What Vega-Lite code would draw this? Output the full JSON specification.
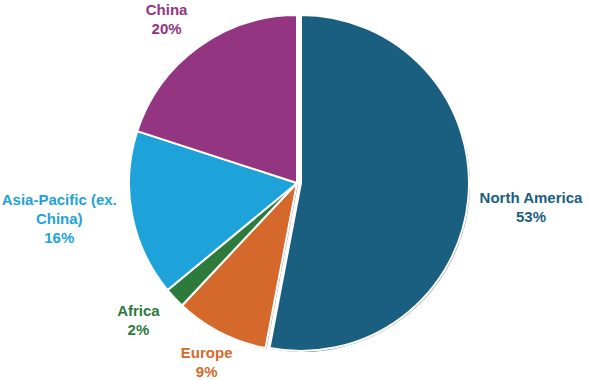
{
  "$schema": "https://vega.github.io/schema/vega-lite/v6.json",
  "autosize": {"type": "none"},
  "width": 584,
  "height": 366,
  "padding": {"left": 5, "top": 0, "right": 0, "bottom": 14},
  "background": "white",
  "config": {"view": {"stroke": null}},
  "data": {
    "values": [
      {"region": "North America", "value": 53, "idx": 1, "label": "North America\n53%"},
      {"region": "Europe", "value": 9, "idx": 2, "label": "Europe\n9%"},
      {"region": "Africa", "value": 2, "idx": 3, "label": "Africa\n2%"},
      {"region": "Asia-Pacific (ex. China)", "value": 16, "idx": 4, "label": "Asia-Pacific (ex.\nChina)\n16%"},
      {"region": "China", "value": 20, "idx": 5, "label": "China\n20%"}
    ]
  },
  "encoding": {
    "theta": {"field": "value", "type": "quantitative", "stack": true},
    "order": {"field": "idx", "type": "quantitative"},
    "color": {
      "field": "region", "type": "nominal", "legend": null,
      "scale": {
        "domain": ["North America", "Europe", "Africa", "Asia-Pacific (ex. China)", "China"],
        "range": ["#1a5e80", "#d5692b", "#2d7a3c", "#1ea2da", "#933581"]
      }
    }
  },
  "layer": [
    {
      "mark": {"type": "arc", "radius": 168, "xOffset": 1, "yOffset": 1},
      "encoding": {
        "color": {"value": "#333333"},
        "opacity": {"condition": {"test": "datum.region === 'North America'", "value": 0}, "value": 0.7}
      }
    },
    {
      "mark": {"type": "arc", "radius": 168, "xOffset": 5, "yOffset": 1},
      "encoding": {
        "color": {"value": "#333333"},
        "opacity": {"condition": {"test": "datum.region === 'North America'", "value": 0.7}, "value": 0}
      }
    },
    {
      "mark": {"type": "arc", "radius": 168, "stroke": "white", "strokeWidth": 2},
      "encoding": {
        "opacity": {"condition": {"test": "datum.region === 'North America'", "value": 0}, "value": 1}
      }
    },
    {
      "mark": {"type": "arc", "radius": 168, "stroke": "white", "strokeWidth": 2, "xOffset": 4},
      "encoding": {
        "opacity": {"condition": {"test": "datum.region === 'North America'", "value": 1}, "value": 0}
      }
    },
    {
      "mark": {"type": "text", "radius": 235, "dy": -7, "font": "Liberation Sans", "fontWeight": "bold", "fontSize": 15, "lineBreak": "\n", "lineHeight": 19, "align": "center", "baseline": "middle"},
      "encoding": {"text": {"condition": {"test": "datum.region === 'North America'", "field": "label"}, "value": ""}}
    },
    {
      "mark": {"type": "text", "radius": 199, "dy": -7, "font": "Liberation Sans", "fontWeight": "bold", "fontSize": 15, "lineBreak": "\n", "lineHeight": 19, "align": "center", "baseline": "middle"},
      "encoding": {"text": {"condition": {"test": "datum.region === 'Europe'", "field": "label"}, "value": ""}}
    },
    {
      "mark": {"type": "text", "radius": 212, "dx": -4, "dy": -17, "font": "Liberation Sans", "fontWeight": "bold", "fontSize": 15, "lineBreak": "\n", "lineHeight": 19, "align": "center", "baseline": "middle"},
      "encoding": {"text": {"condition": {"test": "datum.region === 'Africa'", "field": "label"}, "value": ""}}
    },
    {
      "mark": {"type": "text", "radius": 240, "dx": -2, "dy": -28, "font": "Liberation Sans", "fontWeight": "bold", "fontSize": 15, "lineBreak": "\n", "lineHeight": 19, "align": "center", "baseline": "middle"},
      "encoding": {"text": {"condition": {"test": "datum.region === 'Asia-Pacific (ex. China)'", "field": "label"}, "value": ""}}
    },
    {
      "mark": {"type": "text", "radius": 210, "dx": -7, "dy": -3, "font": "Liberation Sans", "fontWeight": "bold", "fontSize": 15, "lineBreak": "\n", "lineHeight": 19, "align": "center", "baseline": "middle"},
      "encoding": {"text": {"condition": {"test": "datum.region === 'China'", "field": "label"}, "value": ""}}
    }
  ]
}
